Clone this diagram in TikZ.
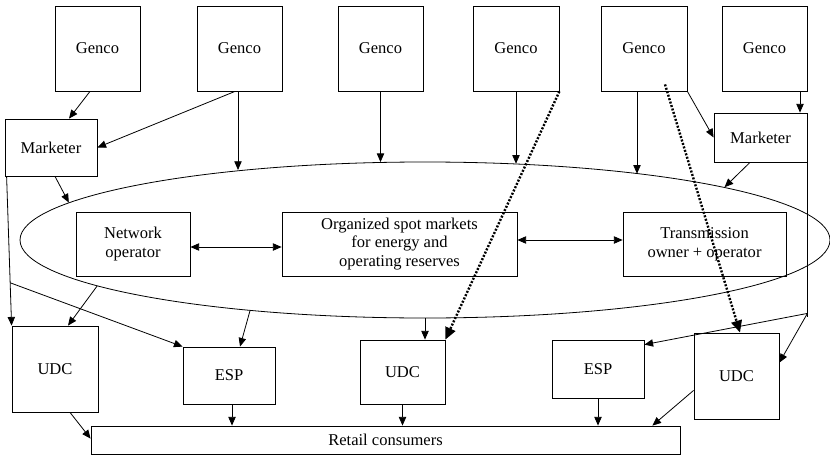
\documentclass[tikz,border=0pt]{standalone}
\usepackage{fontspec}
\setmainfont{Liberation Serif}
\usetikzlibrary{arrows.meta,shapes.geometric,calc}
\begin{document}
\begin{tikzpicture}[x=0.75pt,y=-0.75pt,
  every node/.style={font=\fontsize{12.4}{14}\selectfont},
  box/.style 2 args={draw, line width=0.6pt, inner sep=0pt,
    minimum width=#1*0.75pt, minimum height=#2*0.75pt, align=center},
  arr/.style={line width=0.6pt, -{Triangle[length=6.5pt,width=5.5pt]}},
  darr/.style={line width=0.6pt,
    {Triangle[length=6.5pt,width=5.5pt]}-{Triangle[length=6.5pt,width=5.5pt]}},
  dots/.style={line width=1.8pt, dash pattern=on 1.5pt off 1.2pt,
    -{Triangle[length=9pt,width=8pt]}},
  plain/.style={line width=0.6pt}
]
\useasboundingbox (0,0) rectangle (830,456);

% generating companies
\node[box={85}{85}] (g1) at (97.5,48.5) {Genco};
\node[box={85}{85}] (g2) at (239.5,48.5) {Genco};
\node[box={85}{85}] (g3) at (380.5,48.5) {Genco};
\node[box={86}{85}] (g4) at (516,48.5) {Genco};
\node[box={86}{85}] (g5) at (644,48.5) {Genco};
\node[box={85}{85}] (g6) at (764.5,48.5) {Genco};

% marketers
\node[box={92}{57}] (m1) at (51,147.5) {Marketer};
\node[box={93}{49}] (m2) at (760.5,137.5) {Marketer};

% market core
\node[draw, line width=0.6pt, ellipse, inner sep=0pt,
  minimum width=607.5pt, minimum height=117pt] (mkt) at (425,240) {};
\node[box={114}{64}] (net) at (133,244) {Network\\operator};
\node[box={235}{64}] (spot) at (399.5,244) {Organized spot markets\\for energy and\\operating reserves};
\node[box={163}{64}] (trans) at (704.5,244) {Transmission\\owner + operator};

% distribution and retail
\node[box={86}{86}] (udc1) at (55,369) {UDC};
\node[box={92}{57}] (esp1) at (229,375.5) {ESP};
\node[box={85}{64}] (udc2) at (402.5,372) {UDC};
\node[box={92}{58}] (esp2) at (598,369) {ESP};
\node[box={85}{86}] (udc3) at (736.5,376) {UDC};
\node[box={589}{28}] (retail) at (385.5,440) {Retail consumers};

% helper points
\coordinate (g2o) at ([xshift=-1.125pt]g2.south);
\coordinate (g5o) at ([xshift=-5.25pt]g5.south);
\coordinate (g6o) at ([xshift=26.625pt]g6.south);
\coordinate (m1src) at ([xshift=1.5pt]m1.south west);
\coordinate (br1) at ($(m1src)!0.713!(udc1.north west)$);
\coordinate (rj) at ([yshift=-113.25pt]m2.south east);
\coordinate (esp1o) at ([xshift=2.25pt]esp1.south);

% Gencos to marketers and markets
\draw[arr] ([xshift=-5.625pt]g1.south) -- ([xshift=13.5pt]m1.north);
\draw[arr] ([xshift=-3.375pt]g2.south) -- (m1.east);
\draw[arr] (g2o) -- (g2o |- mkt.159.7);
\draw[arr] (g3.south) -- (g3.south |- mkt.120.1);
\draw[arr] (g4.south) -- (g4.south |- mkt.39.9);
\draw[arr] (g5o) -- (g5o |- mkt.17.4);
\draw[arr] (g5.south east) -- (m2.west);
\draw[arr] (g6o) -- (g6o |- m2.north);
\draw[arr] ([xshift=-7.875pt]m2.south) -- (mkt.10.55);
\draw[arr] ([xshift=3pt]m1.south) -- (mkt.174.3);

% left marketer bypass
\draw[arr] (m1src) -- (udc1.north west);
\draw[arr] (br1) -- (esp1.north west);

% markets to distribution
\draw[arr] (mkt.188.8) -- ([xshift=9.75pt]udc1.north);
\draw[arr] (mkt.202.3) -- ([xshift=8.25pt]esp1.north);
\draw[arr] (mkt.south) -- (mkt.south |- udc2.north);

% core interactions
\draw[darr] ([yshift=-2.25pt]net.east) -- ([yshift=-2.25pt]spot.west);
\draw[darr] ([yshift=3pt]spot.east) -- ([yshift=3pt]trans.west);

% bilateral contracts
\draw[dots] (g4.south east) -- (udc2.north east);
\draw[dots] ([xshift=15.75pt,yshift=5.25pt]g5.south) -- ([xshift=2.625pt]udc3.north);

% right marketer bypass
\draw[plain] (m2.south east) -- ([yshift=-3pt]rj);
\draw[arr] (rj) -- ([yshift=-3.75pt]esp2.north east);
\draw[arr] (rj) -- ([yshift=-22.5pt]udc3.north east);

% deliveries to retail consumers
\draw[arr] ([xshift=11.25pt]udc1.south) -- ([yshift=-9.75pt]retail.north west);
\draw[arr] (esp1o) -- (esp1o |- retail.north);
\draw[arr] (udc2.south) -- (udc2.south |- retail.north);
\draw[arr] (esp2.south) -- (esp2.south |- retail.north);
\draw[arr] ([yshift=21.75pt]udc3.south west) -- ([xshift=-21pt]retail.north east);
\end{tikzpicture}
\end{document}
